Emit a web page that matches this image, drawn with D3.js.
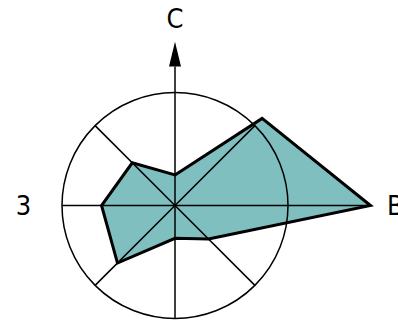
<!DOCTYPE html>
<html>
<head>
<meta charset="utf-8">
<script src="https://cdn.jsdelivr.net/npm/d3@7"></script>
<style>
  body { margin: 0; background: #fff; }
  svg { display: block; }
  text { font-family: "DejaVu Sans Condensed", "DejaVu Sans", sans-serif; font-stretch: condensed; font-weight: 200; font-size: 27px; fill: #000; }
</style>
</head>
<body>
<svg width="398" height="327"></svg>
<script>
const svg = d3.select("svg");

// directions, clockwise from top (N, NE, E, SE, S, SW, W, NW)
const directions = ["N", "NE", "E", "SE", "S", "SW", "W", "NW"];
const values = [0.27, 1.09, 1.73, 0.42, 0.29, 0.72, 0.65, 0.535];
const axisLabels = [
  { text: "C", angle: 0, dist: 1.655 },
  { text: "B", angle: 90, dist: 1.95 },
  { text: "3", angle: 270, dist: 1.34 }
];

const cx = 175, cy = 205.5;
const r = d3.scaleLinear().domain([0, 1]).range([0, 113]);
const angle = d3.scaleLinear().domain([0, directions.length]).range([0, 2 * Math.PI]);

const g = svg.append("g").attr("transform", `translate(${cx},${cy})`);

const radial = d3.lineRadial()
    .angle((d, i) => angle(i))
    .radius(d => r(d))
    .curve(d3.curveLinearClosed);

// filled area first
g.append("path")
    .attr("d", radial(values))
    .attr("fill", "#80bfbf")
    .attr("stroke", "none");

// grid circle
g.append("circle")
    .attr("r", r(1))
    .attr("fill", "none")
    .attr("stroke", "#000")
    .attr("stroke-width", 1.5);

// spokes (N runs up to the arrow, E runs out to the tip)
const pt = (a, v) => [Math.sin(a) * r(v), -Math.cos(a) * r(v)];
directions.forEach((d, i) => {
  let outer = 1;
  if (d === "E") outer = d3.max(values);
  if (d === "N") outer = 1.23;
  const a = angle(i);
  const p1 = pt(a, outer);
  g.append("line")
      .attr("x1", 0).attr("y1", 0)
      .attr("x2", p1[0]).attr("y2", p1[1])
      .attr("stroke", "#000")
      .attr("stroke-width", 1.5);
});

// arrow head on vertical axis
const base = r(1.23), tip = r(1.45);
g.append("path")
    .attr("d", `M0,${-tip} L6,${-base} L-6,${-base} Z`)
    .attr("fill", "#000");

// polygon outline
g.append("path")
    .attr("d", radial(values))
    .attr("fill", "none")
    .attr("stroke", "#000")
    .attr("stroke-width", 3)
    .attr("stroke-linejoin", "miter");

// axis labels
axisLabels.forEach(l => {
  const a = l.angle * Math.PI / 180;
  const p = pt(a, l.dist);
  g.append("text")
      .attr("x", p[0])
      .attr("y", p[1])
      .attr("text-anchor", "middle")
      .attr("dominant-baseline", "central")
      .text(l.text);
});
</script>
</body>
</html>
